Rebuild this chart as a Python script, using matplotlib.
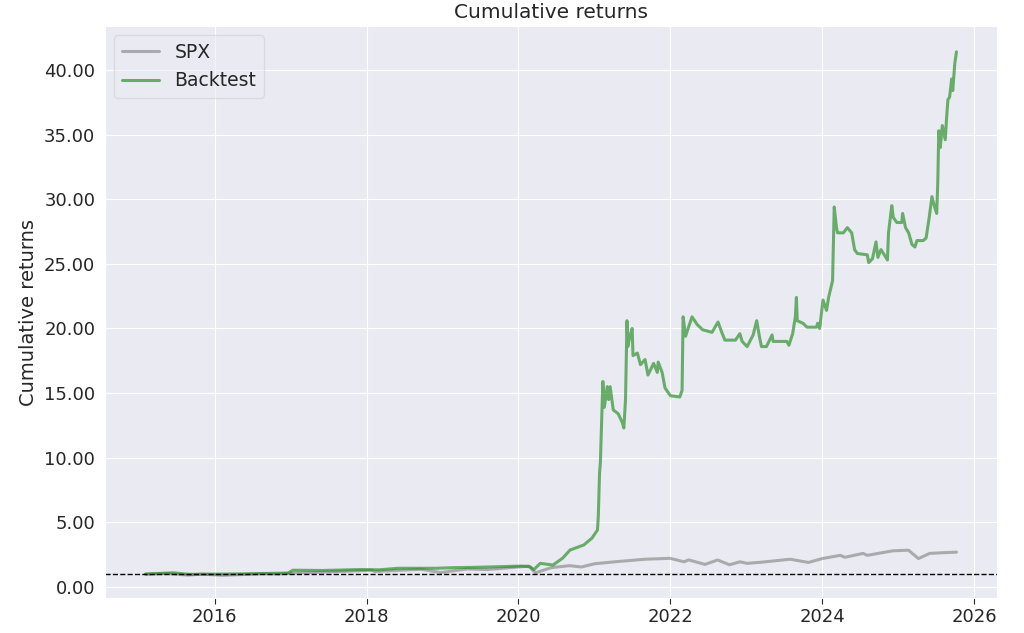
import pandas as pd
import numpy as np
import matplotlib
matplotlib.use("Agg")
import matplotlib.pyplot as plt
import matplotlib.ticker as mticker
import seaborn as sns

# 読み取った値（日付, 累積リターン）
bt_dates = ['2015-02-02', '2015-06-15', '2015-09-01', '2016-01-15', '2016-06-01', '2016-12-20',
            '2017-01-10', '2017-06-01', '2017-12-01', '2018-03-01', '2018-06-01', '2018-12-01',
            '2019-03-01', '2019-06-01', '2019-10-01', '2020-01-15', '2020-02-25', '2020-03-15',
            '2020-04-15', '2020-06-15', '2020-08-01', '2020-09-05', '2020-11-10', '2020-12-20',
            '2021-01-15', '2021-01-19', '2021-01-25', '2021-01-29', '2021-02-10', '2021-02-17',
            '2021-03-03', '2021-03-10', '2021-03-17', '2021-04-01', '2021-04-25', '2021-05-15',
            '2021-05-22', '2021-05-30', '2021-06-06', '2021-06-10', '2021-06-20', '2021-07-01',
            '2021-07-05', '2021-07-26', '2021-08-10', '2021-09-01', '2021-09-15', '2021-10-12',
            '2021-10-30', '2021-11-03', '2021-11-22', '2021-12-06', '2022-01-01', '2022-02-15',
            '2022-02-26', '2022-03-03', '2022-03-15', '2022-03-25', '2022-04-15', '2022-05-10',
            '2022-06-05', '2022-07-20', '2022-08-18', '2022-09-05', '2022-09-20', '2022-11-10',
            '2022-12-01', '2022-12-12', '2023-01-05', '2023-02-03', '2023-02-20', '2023-03-06',
            '2023-03-15', '2023-04-08', '2023-05-05', '2023-05-10', '2023-07-15', '2023-07-25',
            '2023-08-12', '2023-08-25', '2023-08-30', '2023-09-03', '2023-10-01', '2023-10-20',
            '2023-12-05', '2023-12-10', '2023-12-20', '2024-01-01', '2024-01-05', '2024-01-22',
            '2024-02-01', '2024-02-20', '2024-02-28', '2024-03-10', '2024-03-15', '2024-04-12',
            '2024-05-01', '2024-05-22', '2024-06-05', '2024-06-18', '2024-08-05', '2024-08-12',
            '2024-08-30', '2024-09-16', '2024-09-25', '2024-10-10', '2024-10-22', '2024-11-10',
            '2024-11-15', '2024-12-01', '2024-12-08', '2024-12-25', '2025-01-18', '2025-01-22',
            '2025-02-05', '2025-02-20', '2025-03-08', '2025-03-22', '2025-04-01', '2025-05-01',
            '2025-05-15', '2025-05-30', '2025-06-12', '2025-06-25', '2025-07-05', '2025-07-10',
            '2025-07-15', '2025-07-22', '2025-08-01', '2025-08-15', '2025-08-22', '2025-08-28',
            '2025-09-05', '2025-09-15', '2025-09-20', '2025-09-30', '2025-10-08']
bt_values = [1.0, 1.1, 0.98, 1.0, 1.02, 1.08,
             1.3, 1.28, 1.35, 1.33, 1.45, 1.45,
             1.5, 1.52, 1.57, 1.62, 1.57, 1.35,
             1.83, 1.7, 2.24, 2.86, 3.25, 3.79,
             4.41, 5.44, 8.8, 9.6, 15.9, 13.9,
             15.5, 14.5, 15.5, 13.7, 13.4, 12.7,
             12.3, 14.5, 20.6, 18.6, 19.4, 20.0,
             17.9, 18.1, 17.2, 17.6, 16.4, 17.3,
             16.6, 17.4, 16.6, 15.4, 14.8, 14.7,
             15.2, 20.9, 19.4, 19.9, 20.9, 20.3,
             19.9, 19.7, 20.5, 19.7, 19.1, 19.1,
             19.6, 19.0, 18.6, 19.5, 20.6, 19.3,
             18.6, 18.6, 19.5, 19.0, 19.0, 18.7,
             19.6, 20.9, 22.4, 20.6, 20.4, 20.1,
             20.1, 20.4, 20.0, 21.7, 22.2, 21.4,
             22.4, 23.7, 29.4, 27.8, 27.4, 27.4,
             27.8, 27.4, 26.1, 25.8, 25.7, 25.1,
             25.4, 26.7, 25.5, 26.1, 25.8, 25.3,
             27.4, 29.5, 28.6, 28.2, 28.2, 28.9,
             27.8, 27.4, 26.5, 26.3, 26.8, 26.8,
             27.0, 28.6, 30.2, 29.4, 28.9, 31.2,
             35.3, 34.0, 35.7, 34.6, 36.4, 37.7,
             37.9, 39.3, 38.4, 40.5, 41.4]

spx_dates = ['2015-02-02', '2015-05-20', '2015-08-25', '2015-11-01', '2016-02-10', '2016-06-01',
             '2016-08-15', '2016-11-01', '2017-01-01', '2017-06-01', '2018-01-25', '2018-02-08',
             '2018-09-20', '2018-12-24', '2019-04-30', '2019-08-05', '2019-12-31', '2020-02-19',
             '2020-03-23', '2020-06-08', '2020-09-02', '2020-10-30', '2021-01-01', '2021-04-15',
             '2021-09-01', '2021-12-30', '2022-03-08', '2022-03-29', '2022-06-16', '2022-08-16',
             '2022-10-12', '2022-12-01', '2023-01-05', '2023-03-15', '2023-07-31', '2023-10-27',
             '2024-01-01', '2024-03-28', '2024-04-19', '2024-07-16', '2024-08-05', '2024-12-06',
             '2025-02-19', '2025-04-08', '2025-06-01', '2025-08-01', '2025-10-08']
spx_values = [1.0, 1.04, 0.92, 1.0, 0.9, 0.98,
              1.03, 1.0, 1.08, 1.15, 1.3, 1.2,
              1.37, 1.12, 1.4, 1.35, 1.55, 1.62,
              1.1, 1.5, 1.65, 1.55, 1.8, 1.96,
              2.15, 2.22, 1.95, 2.1, 1.75, 2.09,
              1.72, 1.95, 1.83, 1.92, 2.15, 1.9,
              2.2, 2.45, 2.3, 2.6, 2.45, 2.8,
              2.85, 2.2, 2.6, 2.65, 2.7]

sns.set_style("darkgrid")
plt.rcParams['font.family'] = ['DejaVu Sans']
plt.rcParams['xtick.bottom'] = True
plt.rcParams['xtick.major.size'] = 4
plt.rcParams['xtick.color'] = '.15'

bt = pd.Series(bt_values, index=pd.to_datetime(bt_dates))
spx = pd.Series(spx_values, index=pd.to_datetime(spx_dates))

fig, ax = plt.subplots(figsize=(10.24, 6.33), dpi=100)
fig.subplots_adjust(left=105/1024, right=997/1024, top=1-26/633, bottom=1-598/633)

ax.plot(spx.index, spx.values, lw=2.2, color='gray', alpha=0.6, label='SPX')
ax.plot(bt.index, bt.values, lw=2.2, color='forestgreen', alpha=0.65, label='Backtest')
ax.axhline(1.0, linestyle='--', color='black', lw=1)

ax.set_ylim(-0.85, 43.4)
ax.yaxis.set_major_formatter(mticker.FuncFormatter(lambda y, p: '%.2f' % y))
ax.tick_params(axis='both', labelsize=13)
ax.set_ylabel('Cumulative returns', fontsize=14)
ax.set_title('Cumulative returns', fontsize=14.5)
ax.legend(loc='upper left', frameon=True, framealpha=0.5, fontsize=13.5)

plt.savefig('out.png', dpi=100)
